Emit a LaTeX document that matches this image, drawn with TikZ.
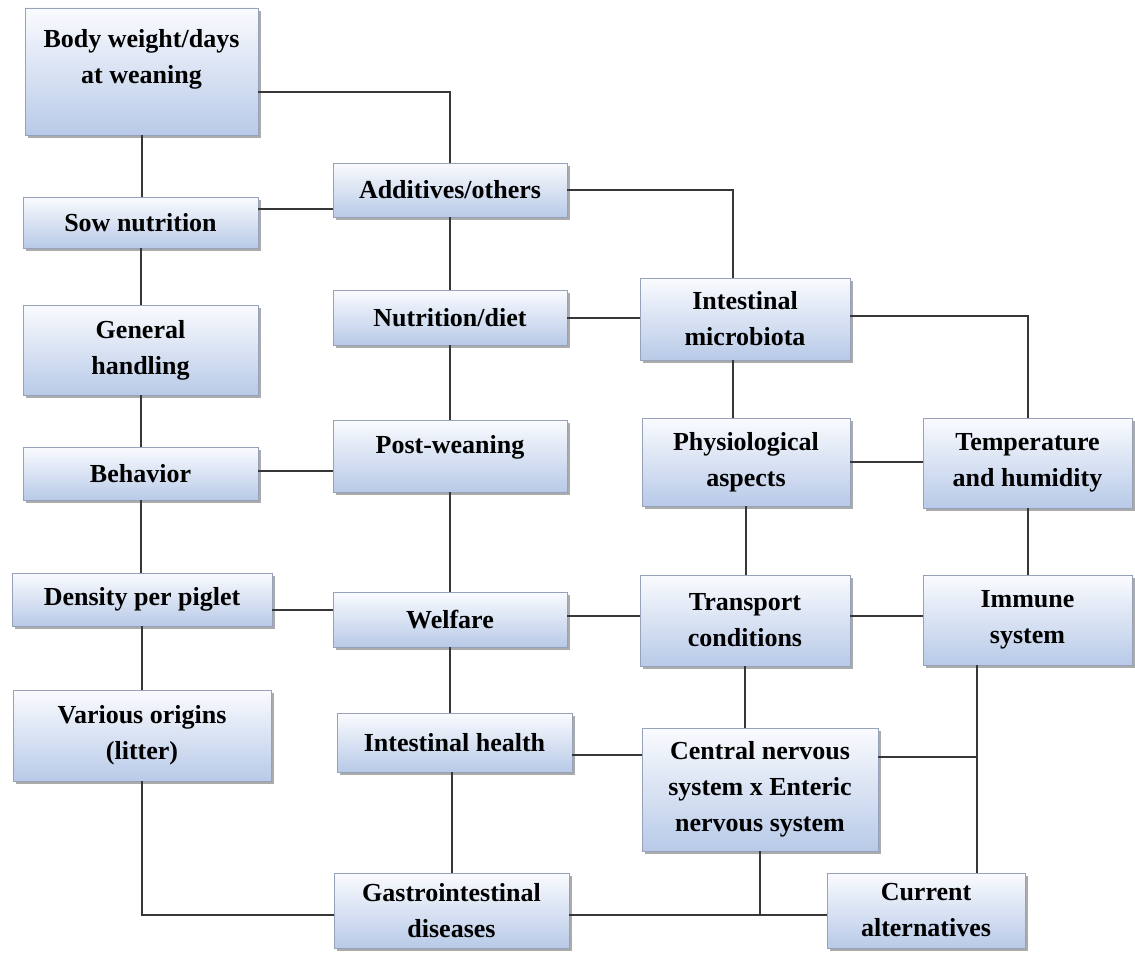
\documentclass[tikz,border=0pt]{standalone}
\usepackage{fontspec}
\setmainfont{Liberation Serif}
\usetikzlibrary{shadows}
\definecolor{boxtop}{RGB}{250,251,254}
\definecolor{boxblue}{RGB}{184,202,232}
\definecolor{boxline}{RGB}{150,162,185}
\definecolor{linkgray}{RGB}{55,55,55}
\tikzset{factor/.style={draw=boxline, line width=0.8pt,
                        top color=boxtop, bottom color=boxblue,
                        align=center, inner sep=2pt,
                        font=\fontsize{26}{36}\selectfont\bfseries,
                        drop shadow={shadow xshift=2.5pt, shadow yshift=-3pt,
                                     fill=black!55, opacity=0.6}},
         link/.style={draw=linkgray, line width=2pt}}
\begin{document}
\begin{tikzpicture}%
        [x=1pt, y=-1pt]
        \useasboundingbox (0,0) rectangle (1135,958);
        % left column
        \node[factor, minimum width=233pt, minimum height=127pt, text depth=30pt] (body) at (141.5,71.5) {Body weight/days\\at weaning};
        \node[factor, minimum width=235pt, minimum height=51pt] (sow) at (140.5,222.5) {Sow nutrition};
        \node[factor, minimum width=235pt, minimum height=90pt] (gen) at (140.5,350) {General\\handling};
        \node[factor, minimum width=235pt, minimum height=53pt] (behav) at (140.5,473.5) {Behavior};
        \node[factor, minimum width=260pt, minimum height=53pt] (dens) at (142,599.5) {Density per piglet};
        \node[factor, minimum width=258pt, minimum height=91pt] (vari) at (142,735.5) {Various origins\\(litter)};

        % second column
        \node[factor, minimum width=234pt, minimum height=54pt] (add) at (450,190) {Additives/others};
        \node[factor, minimum width=234pt, minimum height=55pt] (nutr) at (450,317.5) {Nutrition/diet};
        \node[factor, minimum width=234pt, minimum height=72pt, text depth=24pt] (post) at (450,456) {Post-weaning};
        \node[factor, minimum width=234pt, minimum height=55pt] (welf) at (450,619.5) {Welfare};
        \node[factor, minimum width=235pt, minimum height=59pt] (inth) at (454.5,742.5) {Intestinal health};
        \node[factor, minimum width=235pt, minimum height=75pt] (gast) at (451.5,910.5) {Gastrointestinal\\diseases};

        % third column
        \node[factor, minimum width=210pt, minimum height=82pt] (micro) at (745,319) {Intestinal\\microbiota};
        \node[factor, minimum width=208pt, minimum height=88pt] (phys) at (746,462) {Physiological\\aspects};
        \node[factor, minimum width=210pt, minimum height=91pt] (trans) at (745,620.5) {Transport\\conditions};
        \node[factor, minimum width=236pt, minimum height=123pt] (cns) at (760,789.5) {Central nervous\\system x Enteric\\nervous system};

        % right column
        \node[factor, minimum width=209pt, minimum height=90pt] (temp) at (1027.5,463) {Temperature\\and humidity};
        \node[factor, minimum width=209pt, minimum height=90pt] (imm) at (1027.5,620) {Immune\\system};
        \node[factor, minimum width=198pt, minimum height=75pt] (cur) at (926,910.5) {Current\\alternatives};

        \coordinate (jr) at (977,757);
        \coordinate (jb) at (760,915);

        % links
        \draw[link] ([yshift=-20pt]body.east) -| (add.north);
        \draw[link] (body.south) -- (body.south |- sow.north);
        \draw[link] ([yshift=14pt]sow.east) -- ([yshift=14pt]sow.east -| add.west);
        \draw[link] (sow.south) -- (sow.south |- gen.north);
        \draw[link] (gen.south) -- (gen.south |- behav.north);
        \draw[link] ([yshift=3pt]behav.east) -- ([yshift=3pt]behav.east -| post.west);
        \draw[link] (behav.south) -- (behav.south |- dens.north);
        \draw[link] ([yshift=-10pt]dens.east) -- ([yshift=-10pt]dens.east -| welf.west);
        \draw[link] (dens.south) -- (dens.south |- vari.north);
        \draw[link] (vari.south) |- (jb -| gast.west);

        \draw[link] (add.east) -| ([xshift=-12pt]micro.north);
        \draw[link] (add.south) -- (add.south |- nutr.north);
        \draw[link] (nutr.east) -- (nutr.east -| micro.west);
        \draw[link] (nutr.south) -- (nutr.south |- post.north);
        \draw[link] (post.south) -- (post.south |- welf.north);
        \draw[link] ([yshift=4pt]welf.east) -- ([yshift=4pt]welf.east -| trans.west);
        \draw[link] (welf.south) -- (welf.south |- inth.north);
        \draw[link] ([yshift=-12pt]inth.east) -- ([yshift=-12pt]inth.east -| cns.west);
        \draw[link] (inth.south -| gast.north) -- (gast.north);

        \draw[link] ([yshift=3pt]micro.east) -| (temp.north);
        \draw[link] ([xshift=-12pt]micro.south) -- ([xshift=-12pt]micro.south |- phys.north);
        \draw[link] (phys.east) -- (phys.east -| temp.west);
        \draw[link] (phys.south) -- (phys.south |- trans.north);
        \draw[link] (temp.south) -- (temp.south |- imm.north);
        \draw[link] ([yshift=5pt]trans.east) -- ([yshift=5pt]trans.east -| imm.west);
        \draw[link] (trans.south) -- (trans.south |- cns.north);

        \draw[link] (imm.south -| jr) -- (jr |- cur.north);
        \draw[link] (jr -| cns.east) -- (jr);
        \draw[link] (cns.south -| jb) -- (jb);
        \draw[link] (jb -| gast.east) -- (jb -| cur.west);
    \end{tikzpicture}
\end{document}
